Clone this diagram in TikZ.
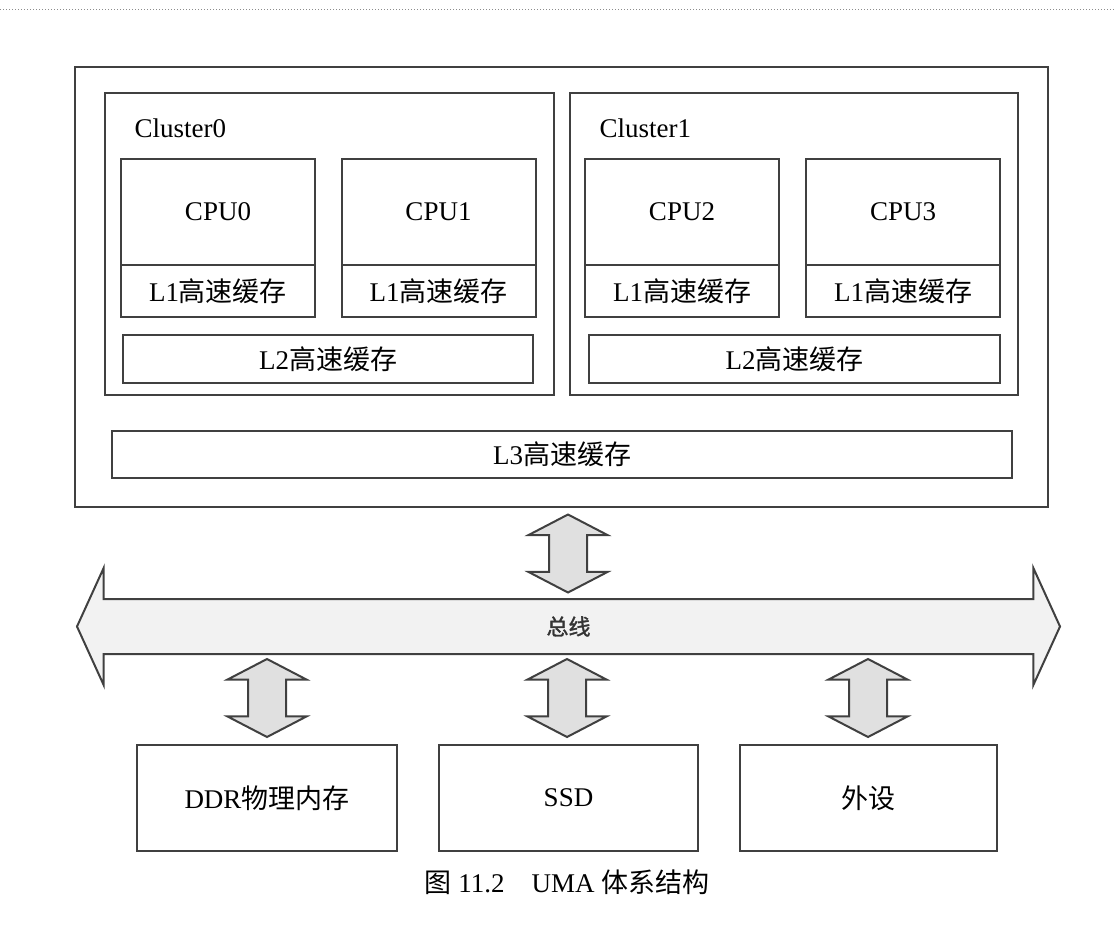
\documentclass[tikz,border=0pt]{standalone}
\usepackage{fontspec}
\setmainfont{Liberation Serif}
\newfontfamily\cjk{Noto Sans CJK SC}
\newfontfamily\cjkbold{Noto Sans CJK SC}[FakeBold=1.5]
\usetikzlibrary{shapes.arrows}

\tikzset{
  box/.style = {draw = black!75, line width = 2pt, inner sep = 0pt},
  updown/.style = {draw = black!75, line width = 2pt, fill = black!12,
    double arrow, rotate = 90, inner xsep = 0pt, inner ysep = 18pt,
    double arrow tip angle = 125, double arrow head extend = 20.5pt,
    minimum height = 78pt},
}

\begin{document}
\begin{tikzpicture}[x = 1pt, y = -1pt, font = \fontsize{27}{30}\selectfont]
    \useasboundingbox (0, 0) rectangle (1115, 925);
    \draw[black!45, line width = 1pt, dotted] (0, 10) -- (1115, 10);

    %% SoC
    \node[box, minimum width = 973pt, minimum height = 440pt] (soc) at (561.5, 287) {};
    \node[box, minimum width = 449pt, minimum height = 302pt] (clu0) at (329.5, 244) {};
    \node[box, minimum width = 448pt, minimum height = 302pt] (clu1) at (794, 244) {};
    \node[right] (lab0) at (131, 128) {Cluster0};
    \node[right] (lab1) at (596, 128) {Cluster1};

    %% cores
    \foreach \i/\x in {0/218, 1/438.5, 2/682, 3/903} {
        \node[box, minimum width = 194pt, minimum height = 106pt] (cpu\i) at (\x, 212) {CPU\i};
        \node[box, minimum width = 194pt, minimum height = 52pt] (lone\i) at (\x, 291) {L1{\cjk 高速缓存}};
    }
    \node[box, minimum width = 410pt, minimum height = 48pt] (ltwo0) at (328, 359) {L2{\cjk 高速缓存}};
    \node[box, minimum width = 411pt, minimum height = 48pt] (ltwo1) at (794.5, 359) {L2{\cjk 高速缓存}};
    \node[box, minimum width = 900pt, minimum height = 47pt] (lthree) at (562, 454.5) {L3{\cjk 高速缓存}};

    %% bus
    \node[draw = black!75, line width = 2pt, fill = black!5, double arrow, inner xsep = 0pt,
        inner ysep = 26.5pt, double arrow tip angle = 131, double arrow head extend = 31pt,
        minimum height = 983pt] (bus) at (568.5, 626.5) {};
    \node[font = \fontsize{22}{24}\selectfont\cjkbold, text = black!80] (buslab) at (bus.center) {总线};

    %% devices
    \node[box, minimum width = 260pt, minimum height = 106pt] (ddr) at (267, 798) {DDR{\cjk 物理内存}};
    \node[box, minimum width = 259pt, minimum height = 106pt] (ssd) at (568.5, 798) {SSD};
    \node[box, minimum width = 257pt, minimum height = 106pt] (dev) at (868.5, 798) {\cjk 外设};

    %% links
    \node[updown] (link0) at (568, 553.5) {};
    \node[updown] (link1) at (267, 698) {};
    \node[updown] (link2) at (567, 698) {};
    \node[updown] (link3) at (868, 698) {};

    \node (cap) at (567, 882) {{\cjk 图} 11.2\quad UMA {\cjk 体系结构}};
\end{tikzpicture}
\end{document}
